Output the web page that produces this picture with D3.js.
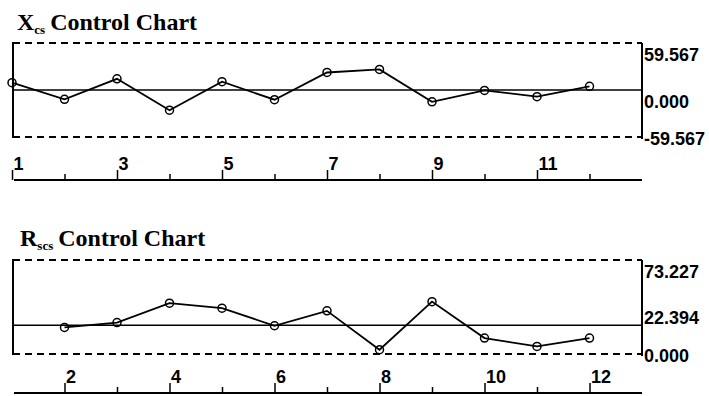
<!DOCTYPE html>
<html>
<head>
<meta charset="utf-8">
<script src="https://cdn.jsdelivr.net/npm/d3@7"></script>
<style>
  body { margin: 0; background: #fff; }
  .lbl { font-family: "Liberation Sans", Arial, sans-serif; font-weight: bold; font-size: 18px; }
  .ttl { font-family: "Liberation Serif", "Times New Roman", serif; font-weight: bold; }
</style>
</head>
<body>
<script>
// X_cs and R_scs control charts

const w = 709;
const h = 396;

// sample numbers and plotted values
const xcsSamples = [1, 2, 3, 4, 5, 6, 7, 8, 9, 10, 11, 12];
const xcsValues = [9.3, -11.8, 14.2, -25.6, 10.5, -12.3, 22.2, 26.1, -15.0, -0.5, -8.4, 4.7];
const xcsLimits = [-59.567, 0, 59.567];   // LCL, CL, UCL
const xcsTicks = [1, 2, 3, 4, 5, 6, 7, 8, 9, 10, 11, 12];

const rscsSamples = [2, 3, 4, 5, 6, 7, 8, 9, 10, 11, 12];
const rscsValues = [20.7, 24.5, 39.6, 35.7, 22.0, 33.6, 3.3, 40.8, 12.4, 5.9, 12.4];
const rscsLimits = [0, 22.394, 73.227];
const rscsTicks = [2, 3, 4, 5, 6, 7, 8, 9, 10, 11, 12];

const svg = d3.select("body")
  .append("svg")
  .attr("width", w)
  .attr("height", h);

const x_scale = d3.scaleLinear()
  .domain([1, 13])
  .range([12, 642]);

// plain hyphen for the minus sign
const fmt = d => d3.format(".3f")(d).replace("\u2212", "-");

function drawPanel(opt) {
  const g = svg.append("g");
  const [lo, cl, hi] = opt.limits;
  const left = 13, right = x_scale(13);

  const y_scale = d3.scaleLinear()
    .domain([lo, hi])
    .range([opt.bottom, opt.top]);

  // title
  const t = g.append("text").attr("class", "ttl")
    .attr("x", opt.titleX).attr("y", opt.titleY).attr("font-size", 24);
  t.append("tspan").text(opt.letter);
  t.append("tspan").attr("font-size", 13).attr("dy", 4).attr("dx", 0).text(opt.sub);
  t.append("tspan").attr("dy", -4).attr("dx", 5).text("Control Chart");

  // left bracket
  g.append("path")
    .attr("d", `M${left + 4},${y_scale(hi)}H${left}V${y_scale(lo)}H${left + 4}`)
    .attr("fill", "none").attr("stroke", "#000").attr("stroke-width", 2);

  // control limits
  g.selectAll(".limit")
    .data([lo, hi])
    .enter()
    .append("line")
    .attr("x1", left).attr("x2", right)
    .attr("y1", d => y_scale(d)).attr("y2", d => y_scale(d))
    .attr("stroke", "#000").attr("stroke-width", 2)
    .attr("stroke-dasharray", "7,5");

  // center line
  g.append("line")
    .attr("x1", left).attr("x2", right)
    .attr("y1", y_scale(cl)).attr("y2", y_scale(cl))
    .attr("stroke", "#000").attr("stroke-width", 1.6);

  // right axis
  g.append("line")
    .attr("x1", right).attr("x2", right)
    .attr("y1", y_scale(hi)).attr("y2", y_scale(lo) + 2)
    .attr("stroke", "#000").attr("stroke-width", 2);

  // right labels, nudged so they don't collide
  const ys = [y_scale(hi) + 12, y_scale(cl) + 12, y_scale(lo) + 2];
  if (ys[2] - ys[1] < 24) ys[1] = y_scale(cl) - 8;
  g.selectAll(".rl")
    .data([hi, cl, lo])
    .enter()
    .append("text")
    .attr("class", "lbl")
    .attr("x", right + 2)
    .attr("y", (d, i) => ys[i])
    .attr("dy", "0.36em")
    .text(d => fmt(d));

  // data line and markers
  const pts = opt.samples.map((s, i) => [x_scale(s), y_scale(opt.values[i])]);
  g.append("path")
    .attr("d", d3.line()(pts))
    .attr("fill", "none").attr("stroke", "#000").attr("stroke-width", 1.8);

  g.selectAll("circle")
    .data(pts)
    .enter()
    .append("circle")
    .attr("cx", d => d[0]).attr("cy", d => d[1]).attr("r", 4)
    .attr("fill", "none").attr("stroke", "#000").attr("stroke-width", 1.5);

  // sample axis underneath
  const axis = d3.axisTop(x_scale)
    .tickValues(opt.ticks)
    .tickSizeOuter(0)
    .tickFormat(d => (d % 2 === opt.parity ? d : ""));

  const ax = g.append("g")
    .attr("transform", `translate(0,${opt.axisY})`)
    .call(axis);
  ax.select(".domain").attr("stroke-width", 2).attr("d", `M${left + 1},0H${right}`);
  ax.selectAll(".tick line")
    .attr("stroke-width", 1.5)
    .attr("y2", d => (d % 2 === opt.parity ? -10 : -6));
  ax.selectAll(".tick text")
    .attr("class", "lbl")
    .attr("font-size", 17)
    .attr("fill", "#000")
    .attr("text-anchor", "start")
    .attr("x", 1)
    .attr("y", -10)
    .attr("dy", 0);
}

drawPanel({
  letter: "X", sub: "cs", titleX: 17, titleY: 30,
  top: 43, bottom: 137, axisY: 180,
  samples: xcsSamples, values: xcsValues, limits: xcsLimits,
  ticks: xcsTicks, parity: 1
});

drawPanel({
  letter: "R", sub: "scs", titleX: 20, titleY: 246,
  top: 260, bottom: 354, axisY: 393,
  samples: rscsSamples, values: rscsValues, limits: rscsLimits,
  ticks: rscsTicks, parity: 0
});
</script>
</body>
</html>
